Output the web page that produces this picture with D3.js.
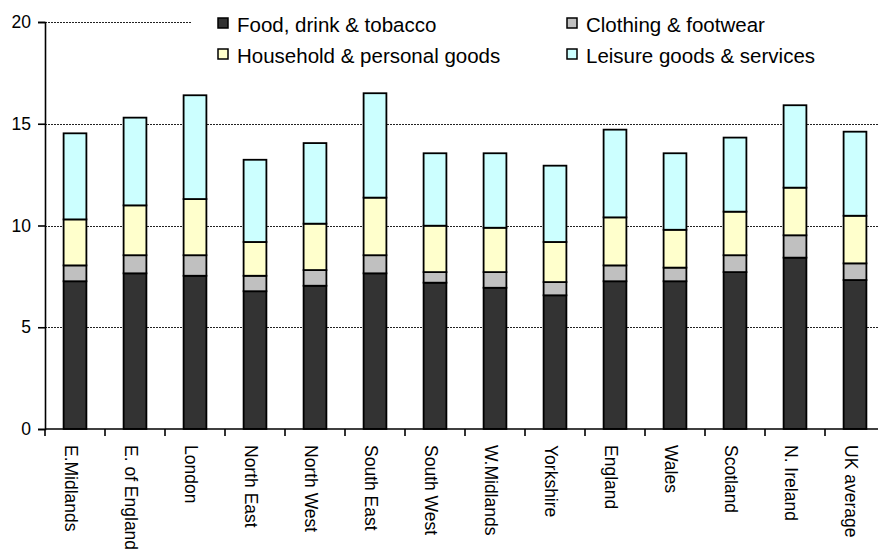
<!DOCTYPE html>
<html>
<head>
<meta charset="utf-8">
<script src="https://cdn.jsdelivr.net/npm/d3@7/dist/d3.min.js"></script>
<style>
  html, body { margin: 0; padding: 0; background: #fff; }
  svg { display: block; font-family: "Liberation Sans", Arial, sans-serif; }
</style>
</head>
<body>
<svg id="chart" width="878" height="551"></svg>
<script>
// Regions and spending components (stacked from the bottom up)
const regions = ["E.Midlands", "E. of England", "London", "North East", "North West",
  "South East", "South West", "W.Midlands", "Yorkshire", "England", "Wales",
  "Scotland", "N. Ireland", "UK average"];

const seriesNames = ["Food, drink & tobacco", "Clothing & footwear",
  "Household & personal goods", "Leisure goods & services"];

const food      = [7.26, 7.65, 7.53, 6.77, 7.04, 7.65, 7.19, 6.94, 6.57, 7.26, 7.26, 7.71, 8.42, 7.32];
const clothing  = [0.78, 0.89, 1.01, 0.76, 0.77, 0.89, 0.52, 0.77, 0.65, 0.78, 0.67, 0.83, 1.10, 0.82];
const household = [2.26, 2.45, 2.76, 1.66, 2.28, 2.83, 2.28, 2.18, 1.97, 2.36, 1.86, 2.14, 2.34, 2.34];
const leisure   = [4.23, 4.31, 5.10, 4.04, 3.96, 5.13, 3.56, 3.66, 3.75, 4.31, 3.76, 3.64, 4.05, 4.13];

const yTicks = [0, 5, 10, 15, 20];

const colors = ["#333333", "#c0c0c0", "#ffffcc", "#ccffff"];

const svg = d3.select("#chart");

const plotLeft = 45, plotBottom = 429, plotTop = 22;
const step = 60;

const x = d3.scaleBand()
  .domain(regions)
  .range([plotLeft, plotLeft + step * regions.length])
  .paddingInner(0.62)
  .paddingOuter(0.31);

const y = d3.scaleLinear().domain([0, 20]).range([plotBottom, plotTop]);

// Build stacked layout
const rows = regions.map((r, i) => ({
  region: r,
  [seriesNames[0]]: food[i],
  [seriesNames[1]]: clothing[i],
  [seriesNames[2]]: household[i],
  [seriesNames[3]]: leisure[i]
}));
const stacked = d3.stack().keys(seriesNames)(rows);

// Dashed gridlines
svg.append("g")
  .selectAll("line")
  .data(yTicks.filter(d => d > 0))
  .join("line")
  .attr("x1", plotLeft)
  .attr("x2", 878)
  .attr("y1", d => Math.round(y(d)) + 0.5)
  .attr("y2", d => Math.round(y(d)) + 0.5)
  .attr("stroke", "#222")
  .attr("stroke-width", 1)
  .attr("stroke-dasharray", "2,1");

// Legend background hides the top gridline behind the key
svg.append("rect")
  .attr("x", 191).attr("y", 6)
  .attr("width", 700).attr("height", 68)
  .attr("fill", "#fff");

// Bars
svg.append("g")
  .selectAll("g")
  .data(stacked)
  .join("g")
  .attr("fill", (d, i) => colors[i])
  .selectAll("rect")
  .data(d => d)
  .join("rect")
  .attr("x", d => x(d.data.region))
  .attr("width", x.bandwidth())
  .attr("y", d => y(d[1]))
  .attr("height", d => y(d[0]) - y(d[1]))
  .attr("stroke", "#000")
  .attr("stroke-width", 1.8);

// Y axis
const yAxis = svg.append("g")
  .attr("transform", `translate(${plotLeft},0)`)
  .call(d3.axisLeft(y).tickValues(yTicks).tickSize(7).tickPadding(7).tickFormat(d3.format("d")));
yAxis.select(".domain").attr("stroke", "#000").attr("stroke-width", 1.6);
yAxis.selectAll(".tick line").attr("stroke", "#000").attr("stroke-width", 1.6);
yAxis.selectAll(".tick text")
  .attr("font-size", 17.5)
  .attr("font-family", "Liberation Sans, Arial, sans-serif")
  .attr("fill", "#000");

// X axis: line with ticks at category boundaries
const xg = svg.append("g");
xg.append("line")
  .attr("x1", plotLeft).attr("x2", 878)
  .attr("y1", plotBottom).attr("y2", plotBottom)
  .attr("stroke", "#000").attr("stroke-width", 1.6);
const boundaries = d3.range(regions.length + 1).map(i => x.range()[0] + i * x.step());
xg.selectAll("line.tick")
  .data(boundaries)
  .join("line")
  .attr("class", "tick")
  .attr("x1", d => d).attr("x2", d => d)
  .attr("y1", plotBottom).attr("y2", plotBottom + 7)
  .attr("stroke", "#000").attr("stroke-width", 1.6);

// Rotated category labels
xg.selectAll("text")
  .data(regions)
  .join("text")
  .attr("transform", d => `translate(${x(d) + x.bandwidth() / 2 - 10},445) rotate(90)`)
  .attr("font-size", 17.5)
  .attr("fill", "#000")
  .text(d => d);

// Legend
const legendPos = [
  { x: 218, y: 32 }, { x: 567, y: 32 },
  { x: 218, y: 63 }, { x: 567, y: 63 }
];
const lg = svg.append("g")
  .selectAll("g")
  .data(seriesNames)
  .join("g")
  .attr("transform", (d, i) => `translate(${legendPos[i].x},${legendPos[i].y})`);
lg.append("rect")
  .attr("x", 0).attr("y", -14)
  .attr("width", 10).attr("height", 10)
  .attr("fill", (d, i) => colors[i])
  .attr("stroke", "#000")
  .attr("stroke-width", 1.5);
lg.append("text")
  .attr("x", 19)
  .attr("font-size", 20.5)
  .attr("fill", "#000")
  .text(d => d);
</script>
</body>
</html>
